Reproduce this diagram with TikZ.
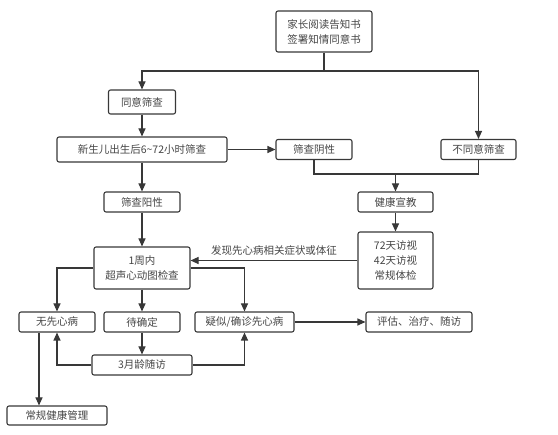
\documentclass[tikz,border=0pt]{standalone}
\usepackage{fontspec}
\setmainfont{Noto Sans CJK SC}
\usetikzlibrary{arrows.meta}
\definecolor{linegray}{HTML}{383838}
\definecolor{textgray}{HTML}{454545}

\begin{document}
\begin{tikzpicture}[x = 1pt, y = -1pt, font = \fontsize{10.5}{15}\selectfont,
    box/.style = {draw = linegray, line width = 1.1pt, rounded corners = 2pt, inner sep = 0pt,
                  align = center, text = textgray},
    arr/.style = {draw = linegray, line width = 1.1pt, -{Triangle[length = 8pt, width = 7pt]}},
    ln/.style = {draw = linegray, line width = 1.1pt}]
        \useasboundingbox (0,0) rectangle (558,435);
        
        \node [box, minimum width = 96, minimum height = 41] (notice) at (324,31.5) {家长阅读告知书\\签署知情同意书};
        \node [box, minimum width = 67, minimum height = 24] (agree) at (142,102) {同意筛查};
        \node [box, minimum width = 170, minimum height = 25] (screen) at (142,149.5) {新生儿出生后6\textasciitilde72小时筛查};
        \node [box, minimum width = 76, minimum height = 20] (negative) at (314,149.5) {筛查阴性};
        \node [box, minimum width = 75, minimum height = 20] (refuse) at (478.5,149.5) {不同意筛查};
        \node [box, minimum width = 75, minimum height = 20] (educate) at (395.5,202) {健康宣教};
        \node [box, minimum width = 76, minimum height = 20] (positive) at (142,202) {筛查阳性};
        \node [box, minimum width = 96, minimum height = 42] (echo) at (142,268) {1周内\\超声心动图检查};
        \node [box, minimum width = 75, minimum height = 57] (visit) at (395.5,260.5) {72天访视\\42天访视\\常规体检};
        \node [box, minimum width = 76, minimum height = 20] (nochd) at (57,322) {无先心病};
        \node [box, minimum width = 76, minimum height = 20] (pending) at (142,322) {待确定};
        \node [box, minimum width = 99, minimum height = 20] (chd) at (244.5,322) {疑似/确诊先心病};
        \node [box, minimum width = 106, minimum height = 20] (treat) at (419,322) {评估、治疗、随访};
        \node [box, minimum width = 100, minimum height = 20] (follow) at (142,365) {3月龄随访};
        \node [box, minimum width = 100, minimum height = 19] (routine) at (57,415.5) {常规健康管理};
        
        \coordinate (split) at (324,71);
        \coordinate (merge) at (395.5,174);
        
        \draw [ln] (notice) -- (split);
        \draw [arr] (split) -| (agree);
        \draw [arr] (split) -| (refuse);
        \draw [arr] (agree) -- (screen);
        \draw [arr] (screen) -- (negative);
        \draw [arr] (screen) -- (positive);
        \draw [ln] (negative) |- (merge);
        \draw [ln] (refuse) |- (merge);
        \draw [arr] (merge) -- (educate);
        \draw [arr] (educate) -- (visit);
        \draw [arr] (visit.west) -- (visit.west -| echo.east)
            node [midway, above = 1pt, text = textgray] {发现先心病相关症状或体征};
        \draw [arr] (positive) -- (echo);
        \draw [arr] (echo.west) -| (nochd);
        \draw [arr] (echo.east) -| (chd);
        \draw [arr] (echo) -- (pending);
        \draw [arr] (pending) -- (follow);
        \draw [arr] (follow.west) -| (nochd);
        \draw [arr] (follow.east) -| (chd);
        \draw [arr] (chd) -- (treat);
        \draw [arr] ([xshift = -18pt]nochd.south) -- ([xshift = -18pt]nochd.south |- routine.north);
    \end{tikzpicture}
\end{document}
